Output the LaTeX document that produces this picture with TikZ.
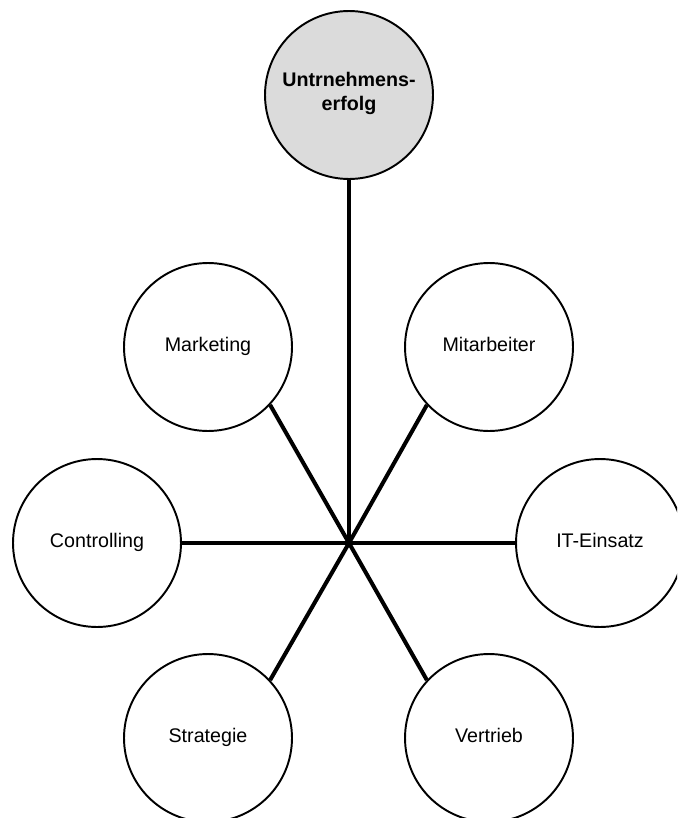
\documentclass[tikz,border=0pt]{standalone}
\usepackage{fontspec}
\setmainfont{Liberation Sans}
\definecolor{topfill}{gray}{0.86}

\begin{document}
\begin{tikzpicture}[x=0.02cm, y=-0.02cm,
  factor/.style={shape=circle,draw,line width=1.1pt,minimum size=3.36cm,
    inner sep=0pt,align=center,font=\fontsize{11.2}{13.5}\selectfont,
    execute at begin node=\strut},
  spoke/.style={line width=2.3pt}]
\useasboundingbox (0,0) rectangle (677,818);
\clip (0,0) rectangle (677,818);
\coordinate (hub) at (349, 543);
\node (erfolg) at (349,  95) [factor,fill=topfill,font=\fontsize{11.2}{13.5}\selectfont\bfseries] {Untrnehmens-\\erfolg};
\node    (mkt) at (208, 347) [factor] {Marketing};
\node    (mit) at (489, 347) [factor] {Mitarbeiter};
\node    (ctr) at ( 97, 543) [factor] {Controlling};
\node     (it) at (600, 543) [factor] {IT-Einsatz};
\node    (str) at (208, 738) [factor] {Strategie};
\node    (ver) at (489, 738) [factor] {Vertrieb};
\draw [spoke] (hub) -- (erfolg);
\draw [spoke] (hub) -- (mkt.-43);
\draw [spoke] (hub) -- (mit.223);
\draw [spoke] (hub) -- (ctr);
\draw [spoke] (hub) -- (it);
\draw [spoke] (hub) -- (str.43);
\draw [spoke] (hub) -- (ver.137);
\end{tikzpicture}
\end{document}
